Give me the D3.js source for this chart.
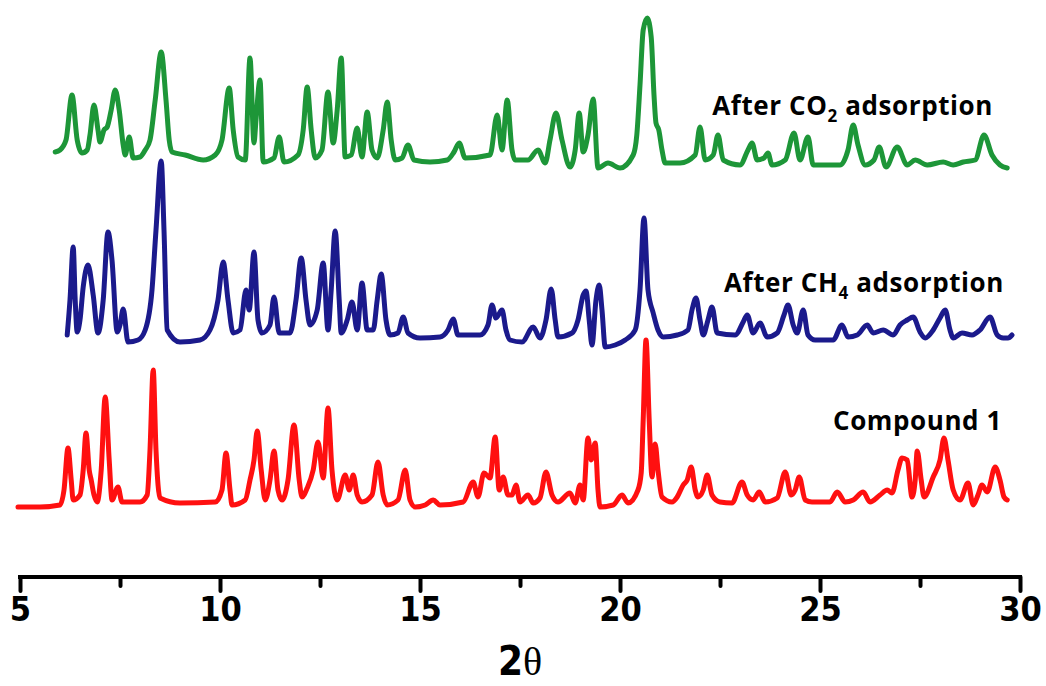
<!DOCTYPE html>
<html>
<head>
<meta charset="utf-8">
<script src="https://cdn.jsdelivr.net/npm/d3@7"></script>
<style>
  body { margin: 0; background: #fff; }
  svg { display: block; }
</style>
</head>
<body>
<svg id="chart" width="1046" height="686"></svg>
<script>
// 2theta (deg), intensity (a.u., relative to each pattern's baseline)
let co2Pattern = [
  [5.88, 13], [6.0, 15], [6.15, 25], [6.3, 70], [6.43, 25], [6.55, 12], [6.68, 15], [6.75, 30],
  [6.85, 60], [6.95, 35], [7.0, 23], [7.1, 35], [7.18, 38], [7.28, 55], [7.38, 75], [7.48, 55],
  [7.58, 20], [7.63, 10], [7.73, 28], [7.83, 7], [8.0, 8], [8.13, 15], [8.25, 25], [8.38, 65],
  [8.53, 113], [8.65, 65], [8.73, 25], [8.8, 13], [9.13, 10], [9.58, 5], [9.88, 10], [10.05, 25],
  [10.23, 77], [10.33, 35], [10.45, 8], [10.63, 5], [10.75, 107], [10.85, 22], [10.9, 45], [11.0, 85],
  [11.08, 3], [11.35, 7], [11.48, 28], [11.6, 3], [11.95, 10], [12.08, 35], [12.18, 78], [12.28, 35],
  [12.38, 7], [12.55, 15], [12.7, 73], [12.83, 22], [12.93, 55], [13.03, 107], [13.13, 8], [13.28, 10],
  [13.43, 37], [13.55, 8], [13.68, 53], [13.8, 15], [13.93, 7], [14.08, 35], [14.18, 63], [14.28, 25],
  [14.38, 5], [14.55, 7], [14.7, 20], [14.85, 5], [15.25, 3], [15.68, 5], [15.85, 13], [15.98, 22],
  [16.13, 7], [16.75, 10], [16.93, 50], [17.05, 15], [17.18, 65], [17.3, 15], [17.38, 5], [17.7, 5],
  [17.95, 15], [18.13, 2], [18.25, 25], [18.4, 52], [18.55, 25], [18.75, -2], [18.88, 15], [18.98, 52],
  [19.08, 13], [19.2, 30], [19.33, 66], [19.45, -3], [19.7, 2], [20.0, -3], [20.33, 10], [20.42, 30],
  [20.5, 80], [20.58, 135], [20.68, 147], [20.78, 128], [20.85, 70], [20.9, 42], [20.97, 35], [21.05, 15],
  [21.13, 2], [21.5, 2], [21.88, 10],
  [22.0, 38], [22.13, 5], [22.33, 10], [22.45, 30], [22.58, 5], [23.0, 0], [23.2, 15], [23.3, 22],
  [23.43, 5], [23.6, 7], [23.7, 12], [23.8, 0], [24.13, 5], [24.35, 32], [24.5, 5], [24.7, 28],
  [24.83, 0], [25.5, 0], [25.7, 15], [25.83, 40], [25.95, 20], [26.13, 0], [26.35, 5], [26.48, 18],
  [26.65, -2], [26.93, 18], [27.18, 0], [27.38, 5], [27.68, 0], [28.08, 3], [28.33, 0], [28.58, 3],
  [28.88, 5], [29.1, 30], [29.3, 10], [29.5, 0], [29.68, -3]
];

let ch4Pattern = [
  [6.18, 5], [6.25, 40], [6.33, 93], [6.38, 40], [6.43, 8], [6.5, 20], [6.58, 53], [6.7, 75],
  [6.83, 45], [6.95, 7], [7.08, 40], [7.2, 108], [7.3, 80], [7.43, 8], [7.5, 15], [7.58, 31],
  [7.7, -2], [7.95, 0], [8.13, 10], [8.3, 50], [8.4, 110], [8.53, 179], [8.6, 110], [8.68, 10],
  [9.0, -2], [9.5, 0], [9.75, 10], [9.95, 40], [10.08, 78], [10.2, 40], [10.33, 7], [10.5, 10],
  [10.65, 50], [10.73, 30], [10.85, 88], [10.95, 20], [11.05, 7], [11.25, 15], [11.35, 43], [11.48, 7],
  [11.75, 7], [11.9, 40], [12.03, 82], [12.15, 40], [12.25, 15], [12.43, 30], [12.58, 77], [12.7, 10],
  [12.78, 50], [12.88, 109], [12.98, 40], [13.03, 7], [13.18, 20], [13.3, 38], [13.43, 10], [13.55, 57],
  [13.68, 10], [13.83, 10], [13.93, 40], [14.03, 66], [14.15, 20], [14.25, 5], [14.45, 7], [14.58, 23],
  [14.7, 7], [15.0, 2], [15.5, 3], [15.7, 10], [15.83, 21], [15.95, 5], [16.5, 5], [16.7, 15],
  [16.8, 35], [16.9, 22], [17.05, 30], [17.15, 10], [17.25, 0], [17.55, -2], [17.83, 13], [18.0, 2],
  [18.15, 20], [18.28, 51], [18.38, 20], [18.45, 3], [18.8, 7], [18.95, 20], [19.08, 45], [19.15, 49],
  [19.23, 20], [19.3, -5], [19.4, 40], [19.48, 55], [19.55, 30], [19.63, -7], [19.88, -5], [20.13, 0],
  [20.38, 10], [20.5, 50], [20.6, 122], [20.7, 50], [20.83, 27], [20.95, 10], [21.08, 3], [21.43, 5],
  [21.7, 10], [21.8, 30], [21.9, 42], [22.0, 20], [22.08, 5], [22.2, 20], [22.3, 33], [22.43, 7],
  [22.88, 5], [23.08, 18], [23.18, 25], [23.33, 7], [23.5, 17], [23.68, 3], [23.93, 7], [24.1, 25],
  [24.2, 35], [24.33, 15], [24.43, 7], [24.58, 30], [24.7, 5], [24.88, 0], [25.33, 0], [25.55, 15],
  [25.7, 3], [25.93, 5], [26.18, 15], [26.33, 7], [26.58, 10], [26.83, 5], [27.0, 15], [27.18, 20],
  [27.33, 23], [27.5, 8], [27.63, 2], [27.83, 10], [28.0, 22], [28.13, 30], [28.25, 10], [28.33, 2],
  [28.55, 7], [28.8, 5], [29.0, 10], [29.25, 23], [29.43, 5], [29.58, 2], [29.7, 2], [29.8, 5]
];

let compoundPattern = [
  [4.95, -2], [5.5, -2], [6.0, 0], [6.1, 15], [6.2, 57], [6.28, 25], [6.33, 5], [6.5, 10],
  [6.58, 35], [6.65, 72], [6.73, 35], [6.78, 25], [6.85, 10], [6.93, 3], [7.03, 35], [7.13, 108],
  [7.23, 45], [7.3, 5], [7.45, 18], [7.55, 3], [8.0, 3], [8.18, 10], [8.25, 55], [8.33, 135],
  [8.4, 55], [8.5, 7], [9.0, 2], [9.88, 3], [10.05, 15], [10.15, 52], [10.25, 15], [10.3, 0],
  [10.63, 5], [10.75, 25], [10.85, 45], [10.93, 74], [11.03, 35], [11.13, 5], [11.25, 25], [11.35, 54],
  [11.45, 15], [11.55, 5], [11.7, 25], [11.85, 80], [11.98, 25], [12.05, 8], [12.18, 17], [12.33, 35],
  [12.45, 63], [12.58, 27], [12.7, 97], [12.8, 35], [12.93, 5], [13.13, 30], [13.23, 15], [13.33, 30],
  [13.43, 10], [13.55, 3], [13.8, 10], [13.95, 43], [14.08, 10], [14.18, 0], [14.45, 5], [14.63, 35],
  [14.75, 5], [14.88, -2], [15.13, 0], [15.33, 5], [15.5, 0], [16.08, 3], [16.33, 23], [16.45, 8],
  [16.6, 32], [16.75, 27], [16.88, 68], [16.98, 15], [17.08, 28], [17.2, 10], [17.3, 10], [17.4, 20],
  [17.5, 3], [17.7, 10], [17.83, 2], [18.0, 7], [18.15, 33], [18.3, 10], [18.45, 3], [18.75, 12],
  [18.88, 2], [19.0, 20], [19.08, 5], [19.2, 67], [19.28, 45], [19.38, 62], [19.45, 15], [19.5, -2],
  [19.83, 0], [20.05, 10], [20.2, 2], [20.45, 15], [20.53, 32], [20.58, 85], [20.65, 165], [20.73, 85],
  [20.8, 28], [20.88, 61], [20.95, 35], [21.05, 8], [21.3, 3], [21.43, 8], [21.58, 20], [21.68, 25],
  [21.78, 38], [21.88, 15], [21.95, 8], [22.08, 15], [22.18, 30], [22.3, 10], [22.5, 3], [22.8, 2],
  [23.05, 23], [23.18, 10], [23.33, 5], [23.48, 13], [23.63, 3], [23.93, 7], [24.13, 33], [24.28, 10],
  [24.38, 15], [24.48, 28], [24.63, 5], [24.8, 3], [25.25, 3], [25.43, 13], [25.63, 3], [25.83, 5],
  [26.08, 13], [26.25, 3], [26.5, 10], [26.68, 15], [26.8, 12], [26.95, 35], [27.05, 47], [27.18, 45],
  [27.3, 8], [27.38, 25], [27.43, 54], [27.53, 25], [27.6, 8], [27.83, 28], [28.0, 45], [28.1, 67],
  [28.2, 45], [28.33, 15], [28.5, 5], [28.7, 22], [28.83, 0], [28.95, 10], [29.05, 20], [29.18, 13],
  [29.38, 38], [29.5, 25], [29.6, 8], [29.68, 5]
];

// vertical offsets used to stack the patterns
let patternNames = ['After CO2 adsorption', 'After CH4 adsorption', 'Compound 1'];
let patternOffsets = [415, 240, 75];
let xTicks = [5, 7.5, 10, 12.5, 15, 17.5, 20, 22.5, 25, 27.5, 30];

const svg = d3.select('#chart');

const x = d3.scaleLinear().domain([5, 30]).range([20, 1020]);
const y = d3.scaleLinear().domain([0, 580]).range([580, 0]);

const line = d3.line()
  .x((d) => x(d[0]))
  .y((d) => y(d[1]))
  .curve(d3.curveMonotoneX);

const patterns = [co2Pattern, ch4Pattern, compoundPattern];
const colors = ['#1d9638', '#1b1a8c', '#ff1010'];

patterns.forEach((p, i) => {
  svg.append('path')
    .datum(p.map((d) => [d[0], d[1] + patternOffsets[i]]))
    .attr('d', line)
    .attr('fill', 'none')
    .attr('stroke', colors[i])
    .attr('stroke-width', 5)
    .attr('stroke-linejoin', 'round')
    .attr('stroke-linecap', 'round');
});

// labels with subscripts
const labelFont = '"Open Sans", "DejaVu Sans", sans-serif';
const labelPos = [[993, 115], [1004, 292], [1002, 430]];

function addLabel(parts, pos) {
  const t = svg.append('text')
    .attr('x', pos[0])
    .attr('y', pos[1])
    .attr('text-anchor', 'end')
    .style('font-family', labelFont)
    .style('font-weight', '700')
    .style('font-size', '26px')
    .style('letter-spacing', '0.6px')
    .style('fill', '#000');
  parts.forEach((p) => {
    if (p.sub) {
      t.append('tspan').attr('dy', 7).style('font-size', '17px').text(p.text);
    } else if (p.after) {
      t.append('tspan').attr('dy', -7).text(p.text);
    } else {
      t.append('tspan').text(p.text);
    }
  });
}

addLabel([{ text: 'After CO' }, { text: '2', sub: true }, { text: ' adsorption', after: true }], labelPos[0]);
addLabel([{ text: 'After CH' }, { text: '4', sub: true }, { text: ' adsorption', after: true }], labelPos[1]);
addLabel([{ text: patternNames[2] }], labelPos[2]);

// x axis
const axis = d3.axisBottom(x)
  .tickValues(xTicks)
  .tickSize(0)
  .tickFormat((d) => (d % 5 === 0 ? d : ''));

const gx = svg.append('g')
  .attr('transform', 'translate(0,577)')
  .call(axis);

gx.select('.domain')
  .attr('d', `M${x(5) - 2},0H${x(30) + 2}`)
  .attr('stroke', '#000')
  .attr('stroke-width', 4);

gx.selectAll('.tick line')
  .attr('y2', (d) => (d % 5 === 0 ? 14 : 9))
  .attr('stroke', '#000')
  .attr('stroke-width', 4)
  .attr('stroke-linecap', 'round');

gx.selectAll('.tick text')
  .attr('y', 44)
  .attr('dy', 0)
  .style('font-family', '"Liberation Sans Narrow", "DejaVu Sans Condensed", sans-serif')
  .style('font-weight', '700')
  .style('font-size', '34px')
  .style('fill', '#000');

const xTitle = svg.append('text')
  .attr('x', 520)
  .attr('y', 675)
  .attr('text-anchor', 'middle')
  .style('font-size', '40px')
  .style('fill', '#000');
xTitle.append('tspan')
  .style('font-family', '"Liberation Sans Narrow", "DejaVu Sans Condensed", sans-serif')
  .style('font-weight', '700')
  .text('2');
xTitle.append('tspan')
  .style('font-family', '"Liberation Serif", "DejaVu Serif", serif')
  .style('font-weight', '400')
  .text('θ');
</script>
</body>
</html>
